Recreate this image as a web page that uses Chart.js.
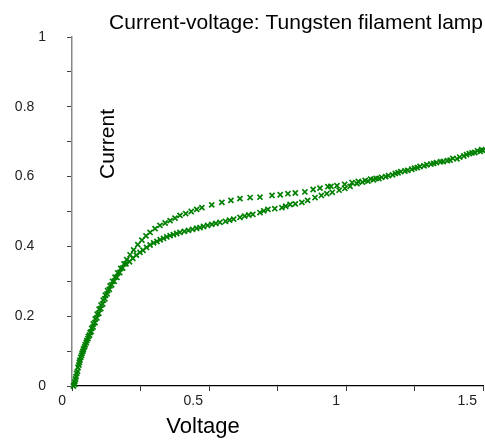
<!DOCTYPE html>
<html>
<head>
<meta charset="utf-8">
<title>Current-voltage: Tungsten filament lamp</title>
<script src="https://cdn.jsdelivr.net/npm/chart.js@4.4.1/dist/chart.umd.min.js"></script>
<style>
  body { margin: 0; background: #fff; }
  canvas { display: block; }
</style>
</head>
<body>
<canvas id="ivChart" width="485" height="441"></canvas>
<script>
const titleText = 'Current-voltage: Tungsten filament lamp';
const xLabel = 'Voltage';
const yLabel = 'Current';
const xTicks = [0, 0.5, 1, 1.5];
const yTicks = [0, 0.2, 0.4, 0.6, 0.8, 1];

// branche basse (montée en tension)
const lowerV = [0.005, 0.01, 0.015, 0.02, 0.025, 0.029, 0.035, 0.04, 0.046, 0.052, 0.058, 0.064, 0.07, 0.077,
  0.084, 0.091, 0.098, 0.105, 0.112, 0.12, 0.128, 0.136, 0.145, 0.154, 0.164, 0.174, 0.185, 0.197,
  0.21, 0.222, 0.235, 0.248, 0.259, 0.272, 0.285, 0.298, 0.31, 0.322, 0.334, 0.346, 0.358, 0.37, 0.382,
  0.394, 0.41, 0.425, 0.44, 0.455, 0.467, 0.48, 0.495, 0.51, 0.525, 0.54, 0.56, 0.575, 0.59, 0.613, 0.63,
  0.645, 0.66, 0.686, 0.7, 0.715, 0.74, 0.766, 0.78, 0.796, 0.815, 0.839, 0.86, 0.887, 0.91, 0.93, 0.95,
  0.975, 0.996, 1.015, 1.04, 1.06, 1.08, 1.1, 1.12, 1.145, 1.17, 1.19, 1.215, 1.24, 1.26, 1.285, 1.31,
  1.33, 1.355, 1.38, 1.405, 1.43, 1.45, 1.47, 1.49, 1.5];
const lowerI = [0, 0.012, 0.027, 0.042, 0.06, 0.074, 0.088, 0.1, 0.112, 0.124, 0.136, 0.146, 0.156, 0.169,
  0.182, 0.195, 0.208, 0.222, 0.235, 0.25, 0.264, 0.277, 0.29, 0.3, 0.311, 0.325, 0.338, 0.35,
  0.356, 0.366, 0.375, 0.383, 0.389, 0.397, 0.404, 0.41, 0.414, 0.419, 0.423, 0.427, 0.431, 0.434, 0.437,
  0.44, 0.443, 0.446, 0.449, 0.452, 0.454, 0.457, 0.46, 0.463, 0.466, 0.469, 0.472, 0.475, 0.478, 0.483, 0.487,
  0.49, 0.492, 0.497, 0.502, 0.506, 0.508, 0.511, 0.515, 0.52, 0.522, 0.526, 0.532, 0.54, 0.546, 0.551, 0.555,
  0.561, 0.566, 0.572, 0.58, 0.584, 0.587, 0.591, 0.594, 0.6, 0.605, 0.611, 0.616, 0.621, 0.626, 0.631, 0.636,
  0.64, 0.643, 0.647, 0.651, 0.659, 0.666, 0.669, 0.672, 0.675];

// branche haute (descente)
const upperV = [0.01, 0.013, 0.017, 0.022, 0.027, 0.032, 0.037, 0.042, 0.048, 0.054, 0.06, 0.066, 0.072, 0.078,
  0.085, 0.092, 0.099, 0.106, 0.114, 0.122, 0.13, 0.139, 0.148, 0.157, 0.167, 0.178, 0.19, 0.2,
  0.212, 0.225, 0.24, 0.255, 0.27, 0.285, 0.303, 0.321, 0.34, 0.358, 0.376, 0.394, 0.415, 0.435, 0.455,
  0.474, 0.51, 0.547, 0.58, 0.613, 0.65, 0.686, 0.73, 0.76, 0.788, 0.815, 0.85, 0.88, 0.905, 0.934, 0.945,
  0.967, 0.995, 1.022, 1.045, 1.07, 1.09, 1.11, 1.13, 1.155, 1.18, 1.2, 1.225, 1.25, 1.27, 1.295, 1.32,
  1.345, 1.37, 1.39, 1.415, 1.44, 1.46, 1.48, 1.495];
const upperI = [0.005, 0.02, 0.036, 0.053, 0.068, 0.082, 0.094, 0.106, 0.118, 0.13, 0.142, 0.153, 0.165, 0.178,
  0.192, 0.206, 0.22, 0.232, 0.246, 0.26, 0.273, 0.287, 0.3, 0.312, 0.324, 0.337, 0.35, 0.362,
  0.376, 0.39, 0.405, 0.418, 0.43, 0.44, 0.451, 0.46, 0.467, 0.474, 0.481, 0.489, 0.494, 0.5, 0.506,
  0.511, 0.519, 0.526, 0.532, 0.537, 0.54, 0.541, 0.546, 0.548, 0.551, 0.553, 0.556, 0.563, 0.567, 0.571, 0.572,
  0.574, 0.578, 0.583, 0.586, 0.589, 0.593, 0.595, 0.598, 0.603, 0.609, 0.614, 0.618, 0.624, 0.629, 0.634, 0.638,
  0.643, 0.646, 0.652, 0.656, 0.663, 0.668, 0.674, 0.677];

const toPoints = (xs, ys) => xs.map((v, i) => ({ x: v, y: ys[i] }));

Chart.defaults.font.family = "'Liberation Sans', Arial, Helvetica, sans-serif";
Chart.defaults.color = '#222';

// titres des axes dessinés à la main (placés comme sur l'original)
const axisTitles = {
  id: 'axisTitles',
  afterDraw(chart) {
    const c = chart.ctx;
    c.save();
    c.fillStyle = '#000';
    c.textAlign = 'center';
    c.textBaseline = 'middle';
    c.font = "22px 'Liberation Sans', Arial, sans-serif";
    c.fillText(xLabel, 203, 427);
    c.translate(108, 144);
    c.rotate(-Math.PI / 2);
    c.font = "21px 'Liberation Sans', Arial, sans-serif";
    c.fillText(yLabel, 0, 0);
    c.restore();
  }
};

const markerStyle = {
  showLine: false,
  pointStyle: 'crossRot',
  pointRadius: 3.6,
  pointBorderWidth: 1.7,
  borderColor: '#008000',
  backgroundColor: '#008000',
  clip: false
};

new Chart(document.getElementById('ivChart'), {
  type: 'scatter',
  data: {
    datasets: [
      { label: 'lower', data: toPoints(lowerV, lowerI), ...markerStyle },
      { label: 'upper', data: toPoints(upperV, upperI), ...markerStyle }
    ]
  },
  options: {
    responsive: false,
    devicePixelRatio: 1,
    animation: false,
    layout: { autoPadding: false, padding: { left: 0, right: 2, top: 0, bottom: 0 } },
    plugins: {
      legend: { display: false },
      tooltip: { enabled: false },
      title: {
        display: true,
        text: titleText,
        align: 'end',
        color: '#000',
        font: { size: 21, weight: 'normal' },
        padding: { top: 10.4, bottom: 1.4 }
      }
    },
    scales: {
      x: {
        type: 'linear',
        min: 0,
        max: 1.5,
        afterFit: (s) => { s.height = 55; },
        border: { color: '#000', width: 1.3 },
        grid: { drawOnChartArea: false, tickLength: 5, tickColor: '#333' },
        ticks: {
          stepSize: 0.25,
          autoSkip: false,
          maxRotation: 0,
          align: 'end',
          labelOffset: -6,
          padding: 2,
          color: '#222',
          font: { size: 14 },
          callback: function (value) {
            const v = Math.round(value * 100) / 100;
            return xTicks.includes(v) ? String(v) : '';
          }
        }
      },
      y: {
        min: 0,
        max: 1,
        afterFit: (s) => { s.width = 72; },
        border: { color: '#888', width: 1.5 },
        grid: { drawOnChartArea: false, tickLength: 5, tickColor: '#444' },
        ticks: {
          stepSize: 0.1,
          autoSkip: false,
          crossAlign: 'near',
          padding: 21,
          color: '#222',
          font: { size: 14 },
          callback: function (value) {
            const v = Math.round(value * 10) / 10;
            if (!yTicks.includes(v)) return '';
            return Number.isInteger(v) ? String(v) : v + '\u2007 ';
          }
        }
      }
    }
  },
  plugins: [axisTitles]
});
</script>
</body>
</html>
